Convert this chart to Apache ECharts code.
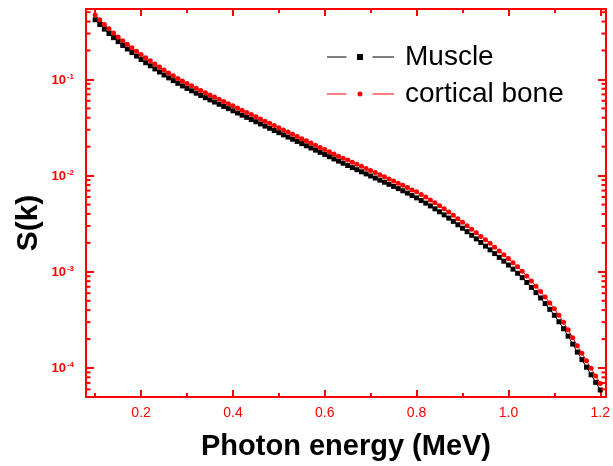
<!DOCTYPE html>
<html>
<head>
<meta charset="utf-8">
<script src="https://cdn.jsdelivr.net/npm/echarts@6.0.0/dist/echarts.min.js"></script>
<style>
html,body{margin:0;padding:0;background:#fff;}
#chart{width:613px;height:466px;}
</style>
</head>
<body>
<div id="chart"></div>
<script>
// Photon energy (MeV)
const energy = [
0.10,0.11,0.12,0.13,0.14,0.15,0.16,0.17,0.18,0.19,
0.20,0.21,0.22,0.23,0.24,0.25,0.26,0.27,0.28,0.29,
0.30,0.31,0.32,0.33,0.34,0.35,0.36,0.37,0.38,0.39,
0.40,0.41,0.42,0.43,0.44,0.45,0.46,0.47,0.48,0.49,
0.50,0.51,0.52,0.53,0.54,0.55,0.56,0.57,0.58,0.59,
0.60,0.61,0.62,0.63,0.64,0.65,0.66,0.67,0.68,0.69,
0.70,0.71,0.72,0.73,0.74,0.75,0.76,0.77,0.78,0.79,
0.80,0.81,0.82,0.83,0.84,0.85,0.86,0.87,0.88,0.89,
0.90,0.91,0.92,0.93,0.94,0.95,0.96,0.97,0.98,0.99,
1.00,1.01,1.02,1.03,1.04,1.05,1.06,1.07,1.08,1.09,
1.10,1.11,1.12,1.13,1.14,1.15,1.16,1.17,1.18,1.19,
1.20];

// S(k) for Muscle
const muscle = [
0.4175,0.3724,0.3337,0.3005,0.2720,0.2472,0.2258,0.2073,0.1903,0.1750,
0.1610,0.1492,0.1386,0.1287,0.1196,0.1113,0.1039,0.09718,0.09114,0.08565,
0.08070,0.07621,0.07198,0.06814,0.06465,0.06135,0.05821,0.05525,0.05243,0.04975,
0.04721,0.04480,0.04252,0.04035,0.03829,0.03634,0.03448,0.03273,0.03106,0.02947,
0.02797,0.02655,0.02519,0.02391,0.02269,0.02153,0.02043,0.01939,0.01840,0.01746,
0.01657,0.01573,0.01492,0.01416,0.01344,0.01275,0.01212,0.01153,0.01097,0.01043,
0.00992,0.00944,0.00898,0.00854,0.00812,0.00773,0.007333,0.006958,0.006587,0.006220,
0.005875,0.005522,0.005178,0.004844,0.004520,0.004209,0.003909,0.003622,0.003349,0.003088,
0.002841,0.002615,0.002399,0.002202,0.002021,0.001851,0.001694,0.001548,0.001414,0.001291,
0.001177,0.001067,0.0009658,0.0008700,0.0007756,0.0006887,0.0006084,0.0005350,0.0004681,0.0004077,
0.0003534,0.0003028,0.0002563,0.0002144,0.0001772,0.0001464,0.0001222,0.0001020,0.0000851,0.0000710,
0.0000592];

// S(k) for cortical bone
const corticalBone = [
0.4676,0.4171,0.3737,0.3366,0.3046,0.2769,0.2529,0.2322,0.2131,0.1960,
0.1813,0.1680,0.1561,0.1449,0.1347,0.1253,0.1170,0.1094,0.1026,0.09644,
0.09087,0.08581,0.08105,0.07673,0.07280,0.06908,0.06554,0.06221,0.05904,0.05602,
0.05316,0.05044,0.04788,0.04543,0.04311,0.04092,0.03882,0.03685,0.03497,0.03318,
0.03149,0.02990,0.02836,0.02692,0.02555,0.02424,0.02300,0.02183,0.02072,0.01966,
0.01866,0.01771,0.01680,0.01594,0.01513,0.01454,0.01382,0.01314,0.01251,0.01189,
0.01131,0.01076,0.01024,0.009736,0.009257,0.008812,0.008360,0.007932,0.007509,0.007091,
0.006786,0.006378,0.005981,0.005595,0.005221,0.004861,0.004515,0.004183,0.003868,0.003567,
0.003281,0.003020,0.002771,0.002543,0.002334,0.002160,0.001977,0.001807,0.001650,0.001507,
0.001374,0.001245,0.001127,0.001015,0.0009051,0.0008037,0.0007100,0.0006243,0.0005463,0.0004758,
0.0004124,0.0003534,0.0002991,0.0002502,0.0002068,0.0001708,0.0001426,0.0001190,0.0000993,0.0000829,
0.0000691];

const seriesNames = ['Muscle', 'cortical bone'];
// Log-axis minor tick mantissas and decades
const minorMantissas = [2,3,4,5,6,7,8,9];
const minorDecades = [-5,-4,-3,-2,-1];

const RED = '#ff0000';
const FONT = '"Liberation Sans", Arial, sans-serif';

const minorTickValues = [];
minorDecades.forEach(d => minorMantissas.forEach(m => minorTickValues.push([0.5, m * Math.pow(10, d)])));

function xLabel(v) {
  const k = v * 5;
  if (Math.abs(k - Math.round(k)) > 1e-6) return '';
  return v.toFixed(1);
}
function yLabel(v) {
  const l = Math.log10(v);
  const e = Math.round(l);
  if (Math.abs(l - e) > 1e-6) return '';
  return '{b|10}{s|' + e + '}';
}

function xAxisCfg(extra) {
  return Object.assign({
    type: 'value', min: 0.08, max: 1.2125, minInterval: 0.2, maxInterval: 0.2,
    axisLine: { show: true, onZero: false, lineStyle: { color: RED, width: 2 } },
    axisTick: { show: true, inside: true, length: 7, lineStyle: { color: RED, width: 2 } },
    minorTick: { show: true, splitNumber: 2, length: 4, lineStyle: { color: RED, width: 2 } },
    splitLine: { show: false }, minorSplitLine: { show: false }
  }, extra);
}
function yAxisCfg(extra) {
  return Object.assign({
    type: 'log', logBase: 10, min: 5e-5, max: 0.54,
    axisLine: { show: true, onZero: false, lineStyle: { color: RED, width: 2 } },
    axisTick: { show: true, inside: true, length: 8, lineStyle: { color: RED, width: 2 } },
    splitLine: { show: false }
  }, extra);
}

const chart = echarts.init(document.getElementById('chart'));
chart.setOption({
  animation: false,
  backgroundColor: '#ffffff',
  grid: { left: 86, right: 2.5, top: 9, bottom: 67 },
  xAxis: [
    xAxisCfg({
      position: 'bottom',
      name: 'Photon energy (MeV)', nameLocation: 'middle', nameGap: 35,
      nameTextStyle: { fontFamily: FONT, fontSize: 29, fontWeight: 'bold', color: '#000' },
      axisLabel: { show: true, margin: 9, color: RED, fontFamily: FONT, fontSize: 14, formatter: xLabel }
    }),
    xAxisCfg({ position: 'top', axisLabel: { show: false } })
  ],
  yAxis: [
    yAxisCfg({
      position: 'left',
      axisLabel: {
        show: true, margin: 12, formatter: yLabel,
        rich: {
          b: { fontFamily: FONT, fontSize: 13, fontWeight: 'bold', color: RED, lineHeight: 14, verticalAlign: 'bottom' },
          s: { fontFamily: FONT, fontSize: 8, fontWeight: 'bold', color: RED, lineHeight: 14, verticalAlign: 'top', padding: [0, 0, 0, 1] }
        }
      }
    }),
    yAxisCfg({ position: 'right', axisLabel: { show: false } })
  ],
  graphic: [{
    type: 'text', x: 29, y: 223, rotation: Math.PI / 2,
    style: { text: 'S(k)', font: 'bold 30px ' + FONT, fill: '#000', textAlign: 'center', textVerticalAlign: 'middle' }
  }],
  legend: {
    show: true, orient: 'vertical', left: 322, top: 37, itemGap: 7,
    itemWidth: 67, itemHeight: 6, symbolKeepAspect: true,
    itemStyle: { borderWidth: 0 },
    textStyle: { fontFamily: FONT, fontSize: 28, color: '#000', lineHeight: 30, padding: [0, 0, 0, 6] },
    data: [
      { name: seriesNames[0], icon: 'path://M0,2.5h19.5v1h-19.5z M30,0h6v6h-6z M45.5,2.5h21.5v1h-21.5z' },
      { name: seriesNames[1], icon: 'path://M0,2.5h19.5v1h-19.5z M30.5,3a2.5,2.5 0 1,0 5,0a2.5,2.5 0 1,0 -5,0z M45.5,2.5h21.5v1h-21.5z' }
    ]
  },
  series: [
    {
      name: seriesNames[0], type: 'line',
      data: energy.map((x, i) => [x, muscle[i]]),
      symbol: 'rect', symbolSize: 5, showSymbol: true,
      itemStyle: { color: '#000000' },
      lineStyle: { color: '#000000', width: 1 }
    },
    {
      name: seriesNames[1], type: 'line',
      data: energy.map((x, i) => [x, corticalBone[i]]),
      symbol: 'circle', symbolSize: 5, showSymbol: true,
      itemStyle: { color: RED },
      lineStyle: { color: RED, width: 1 }
    },
    {
      name: 'minorTicks', type: 'custom',
      data: minorTickValues, clip: false, z: 10,
      renderItem: function (params, api) {
        const cs = params.coordSys;
        const y = api.coord([0.5, api.value(1)])[1];
        if (y < cs.y - 0.5 || y > cs.y + cs.height + 0.5) return null;
        const st = { stroke: RED, lineWidth: 2 };
        return { type: 'group', children: [
          { type: 'line', shape: { x1: cs.x, y1: y, x2: cs.x + 4.5, y2: y }, style: st },
          { type: 'line', shape: { x1: cs.x + cs.width - 4.5, y1: y, x2: cs.x + cs.width, y2: y }, style: st }
        ] };
      }
    }
  ]
});
</script>
</body>
</html>
